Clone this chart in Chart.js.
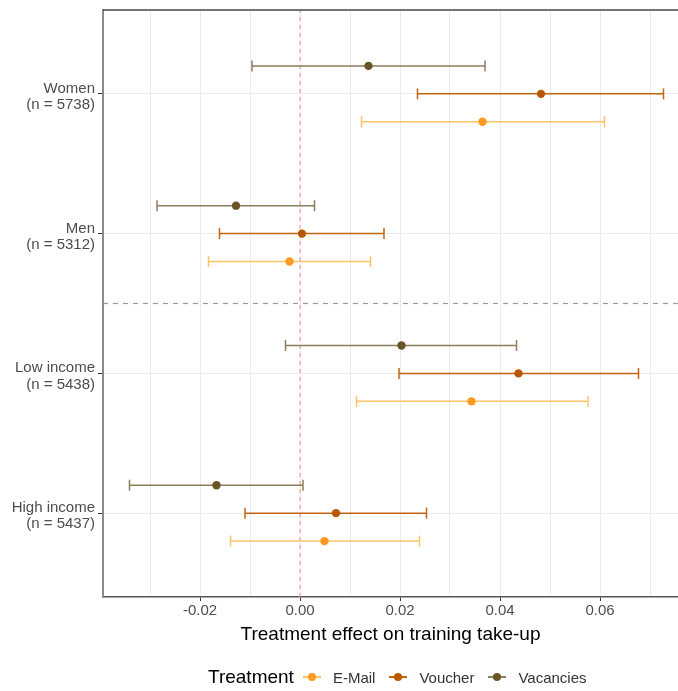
<!DOCTYPE html>
<html>
<head>
<meta charset="utf-8">
<script src="https://cdn.jsdelivr.net/npm/chart.js@4.4.1/dist/chart.umd.min.js"></script>
<style>
  body { margin: 0; background: #fff; font-family: "Liberation Sans", Arial, sans-serif; }
  #wrap { position: relative; width: 678px; height: 691px; }
  #legend { position: absolute; left: 208px; top: 665px; height: 24px; display: flex; align-items: center; white-space: nowrap; }
  #legend .title { font-size: 19px; color: #000; margin-right: 9px; }
  #legend .key { position: relative; width: 18px; height: 18px; margin-right: 12px; }
  #legend .key .ln { position: absolute; left: 0; right: 0; top: 8px; height: 2px; }
  #legend .key .pt { position: absolute; left: 5px; top: 5px; width: 8px; height: 8px; border-radius: 50%; }
  #legend .lab { font-size: 15px; color: #333; margin-right: 14px; }
</style>
</head>
<body>
<div id="wrap">
  <canvas id="effects" width="678" height="691"></canvas>
  <div id="legend"></div>
</div>
<script>
// subgroups, top to bottom
var groups = ['Women', 'Men', 'Low income', 'High income'];
var groupN = [5738, 5312, 5438, 5437];

var treatments = ['E-Mail', 'Voucher', 'Vacancies'];

// point estimates and 95% CI per treatment, in group order
var emailEst = [0.0365, -0.0021, 0.0343, 0.0049];
var emailLo  = [0.0123, -0.0183, 0.0113, -0.0139];
var emailHi  = [0.0609, 0.0141, 0.0576, 0.0239];

var voucherEst = [0.0482, 0.0004, 0.0437, 0.0072];
var voucherLo  = [0.0235, -0.0161, 0.0198, -0.0110];
var voucherHi  = [0.0727, 0.0168, 0.0677, 0.0253];

var vacanciesEst = [0.0137, -0.0128, 0.0203, -0.0167];
var vacanciesLo  = [-0.0096, -0.0286, -0.0029, -0.0341];
var vacanciesHi  = [0.0370, 0.0029, 0.0433, 0.0006];

var xTickLabels = [-0.02, 0.00, 0.02, 0.04, 0.06];

var xMin = -0.0394, xMax = 0.0756;
var yMin = 0.4, yMax = 4.6;

var series = [
  { name: 'E-Mail',    est: emailEst,     lo: emailLo,     hi: emailHi,     dodge: -0.2, point: '#FF9A1F', line: '#FFC266' },
  { name: 'Voucher',   est: voucherEst,   lo: voucherLo,   hi: voucherHi,   dodge: 0,    point: '#BA5800', line: '#C2640F' },
  { name: 'Vacancies', est: vacanciesEst, lo: vacanciesLo, hi: vacanciesHi, dodge: 0.2,  point: '#6A5527', line: '#8C7D5C' }
];

var font = '"Liberation Sans", Arial, sans-serif';

function groupY(i) { return groups.length - i; }

var datasets = [];

// zero line and the divider between gender and income groups
datasets.push({
  data: [{ x: 0, y: yMin }, { x: 0, y: yMax }],
  showLine: true, borderColor: '#F49C9C', borderWidth: 1.2, borderDash: [4, 4],
  pointRadius: 0, order: 3
});
var divider = (groupY(1) + groupY(2)) / 2;
datasets.push({
  data: [{ x: xMin, y: divider }, { x: xMax, y: divider }],
  showLine: true, borderColor: '#9A9A9A', borderWidth: 1.2, borderDash: [5, 5],
  pointRadius: 0, order: 3
});

series.forEach(function (s) {
  // one interval per group, caps drawn as rotated line points
  groups.forEach(function (g, i) {
    var y = groupY(i) + s.dodge;
    datasets.push({
      data: [{ x: s.lo[i], y: y }, { x: s.hi[i], y: y }],
      showLine: true, borderColor: s.line, borderWidth: 1.5,
      pointStyle: 'line', rotation: 90, pointRadius: 5.5,
      pointBorderColor: s.line, pointBorderWidth: 1.5,
      order: 2
    });
  });
  datasets.push({
    label: s.name,
    data: groups.map(function (g, i) { return { x: s.est[i], y: groupY(i) + s.dodge }; }),
    pointRadius: 4.2, pointBackgroundColor: s.point, pointBorderColor: s.point, pointBorderWidth: 0,
    order: 1
  });
});

var topBorder = {
  id: 'topBorder',
  afterDraw: function (chart) {
    var ctx = chart.ctx, a = chart.chartArea;
    ctx.save();
    ctx.strokeStyle = '#444';
    ctx.lineWidth = 1.5;
    ctx.beginPath();
    ctx.moveTo(a.left, a.top);
    ctx.lineTo(a.right, a.top);
    ctx.stroke();
    ctx.restore();
  }
};

function isMajor(v) {
  return xTickLabels.some(function (l) { return Math.abs(l - v) < 1e-9; });
}

new Chart(document.getElementById('effects'), {
  type: 'scatter',
  data: { datasets: datasets },
  plugins: [topBorder],
  options: {
    responsive: false,
    animation: false,
    layout: { autoPadding: false, padding: { top: 10, right: 0, bottom: 41, left: 0 } },
    plugins: { legend: { display: false }, tooltip: { enabled: false } },
    scales: {
      x: {
        type: 'linear', min: xMin, max: xMax,
        afterBuildTicks: function (scale) {
          var t = [];
          for (var k = -3; k <= 7; k++) t.push({ value: k / 100 });
          scale.ticks = t;
        },
        afterFit: function (scale) {
          scale.height = 53;
          scale.paddingLeft = 0;
          scale.paddingRight = 0;
        },
        ticks: {
          autoSkip: false, maxRotation: 0, padding: 1,
          color: '#4D4D4D', font: { family: font, size: 15 },
          callback: function (v) { return isMajor(v) ? v.toFixed(2) : ''; }
        },
        grid: {
          color: '#EBEBEB', lineWidth: 1, tickLength: 4,
          tickColor: function (ctx) {
            return ctx.tick && isMajor(ctx.tick.value) ? '#333' : 'rgba(0,0,0,0)';
          }
        },
        border: { color: '#555', width: 1.5 },
        title: {
          display: true, text: 'Treatment effect on training take-up', color: '#000',
          font: { family: font, size: 19 },
          padding: { top: 0, bottom: 4 }
        }
      },
      y: {
        type: 'linear', min: yMin, max: yMax,
        afterBuildTicks: function (scale) {
          scale.ticks = groups.map(function (g, i) { return { value: groupY(i) }; });
        },
        afterFit: function (scale) {
          scale.width = 103;
          scale.paddingTop = 0;
          scale.paddingBottom = 0;
        },
        ticks: {
          autoSkip: false, padding: 3, labelOffset: 3,
          color: '#4D4D4D', font: { family: font, size: 15, lineHeight: 1.07 },
          callback: function (v) {
            var i = groups.length - Math.round(v);
            return [groups[i], '(n = ' + groupN[i] + ')'];
          }
        },
        grid: { color: '#EBEBEB', lineWidth: 1, tickLength: 5, tickColor: '#333' },
        border: { color: '#8A8A8A', width: 2 }
      }
    }
  }
});

// legend row
var legend = document.getElementById('legend');
var html = '<span class="title">Treatment</span>';
series.forEach(function (s) {
  html += '<span class="key"><span class="ln" style="background:' + s.line + '"></span>' +
          '<span class="pt" style="background:' + s.point + '"></span></span>' +
          '<span class="lab">' + s.name + '</span>';
});
legend.innerHTML = html;
</script>
</body>
</html>
